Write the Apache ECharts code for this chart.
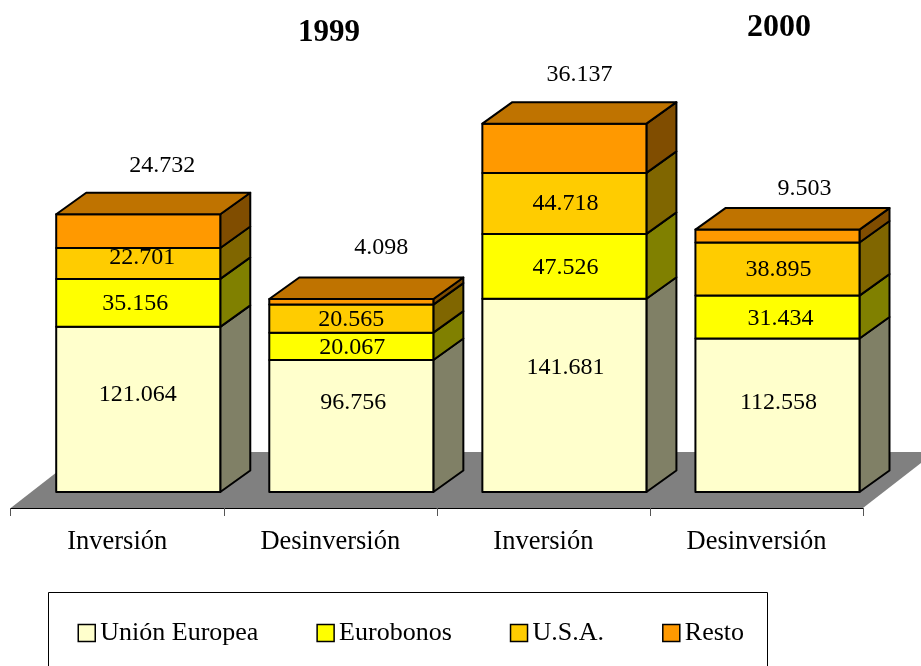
<!DOCTYPE html>
<html>
<head>
<meta charset="utf-8">
<style>html,body{margin:0;padding:0;background:#fff;overflow:hidden}#c{width:921px;height:666px}</style>
<script src="https://cdn.jsdelivr.net/npm/echarts@6/dist/echarts.min.js"></script>
</head>
<body>
<div id="c"></div>
<script>
const categories = ['Inversión', 'Desinversión', 'Inversión', 'Desinversión'];
const seriesNames = ['Unión Europea', 'Eurobonos', 'U.S.A.', 'Resto'];
const unionEuropea = [121.064, 96.756, 141.681, 112.558];
const eurobonos = [35.156, 20.067, 47.526, 31.434];
const usa = [22.701, 20.565, 44.718, 38.895];
const resto = [24.732, 4.098, 36.137, 9.503];
const groupTitles = ['1999', '2000'];

const allValues = [unionEuropea, eurobonos, usa, resto];
const frontColors = ['#FFFFCC', '#FFFF00', '#FFCC00', '#FF9900'];
const sideColors = ['#808066', '#808000', '#806600', '#804D00'];
const topColor = '#BF7300';
const FONT = '"Liberation Serif","Times New Roman",serif';

// 3D projection
const depthX = 30, depthY = -21.5, shiftX = 21, barRatio = 0.77;
const floorX = 72, floorY = -56, floorDrop = 16;

// label nudges from each segment's centre: [series][bar] = [dx, dy]
const labelNudge = [
  [[-0.5, -15], [2, -23], [1, -28], [1, -13]],
  [[-3, 0.5], [1, 1], [1, 1], [3, 2]],
  [[4, -6], [0, 1], [1, 0.5], [1, 0.5]],
  [[24, -65], [30, -54], [15, -74], [27, -47]]
];

function fmt(v) { return v.toFixed(3); }

const cumulative = categories.map(() => 0);
const barSeries = seriesNames.map((name, s) => {
  const data = categories.map((c, i) => {
    const base = cumulative[i];
    cumulative[i] += allValues[s][i];
    return [i, base, cumulative[i], allValues[s][i]];
  });
  return {
    type: 'custom',
    name,
    coordinateSystem: 'cartesian2d',
    encode: { x: 0, y: [1, 2] },
    itemStyle: { color: frontColors[s] },
    silent: true,
    data,
    renderItem(params, api) {
      const i = api.value(0);
      const lo = api.coord([i, api.value(1)]);
      const hi = api.coord([i, api.value(2)]);
      const w = api.size([1, 0])[0] * barRatio;
      const x0 = lo[0] + shiftX - w / 2, x1 = x0 + w;
      const yb = lo[1], yt = hi[1];
      const line = { stroke: '#000', lineWidth: 2, lineJoin: 'round' };
      const children = [
        { type: 'polygon', shape: { points: [[x1, yb], [x1 + depthX, yb + depthY], [x1 + depthX, yt + depthY], [x1, yt]] },
          style: Object.assign({ fill: sideColors[s] }, line) },
        { type: 'rect', shape: { x: x0, y: yt, width: w, height: yb - yt },
          style: Object.assign({ fill: frontColors[s] }, line) }
      ];
      if (s === seriesNames.length - 1) {
        children.push({ type: 'polygon', shape: { points: [[x0, yt], [x0 + depthX, yt + depthY], [x1 + depthX, yt + depthY], [x1, yt]] },
          style: Object.assign({ fill: topColor }, line) });
      }
      const n = labelNudge[s][i];
      children.push({ type: 'text', style: {
        text: fmt(api.value(3)), x: (x0 + x1) / 2 + n[0], y: (yb + yt) / 2 + n[1],
        align: 'center', verticalAlign: 'middle', fill: '#000', font: '24px ' + FONT } });
      return { type: 'group', children };
    }
  };
});

const floorSeries = {
  type: 'custom',
  name: 'floor',
  coordinateSystem: 'cartesian2d',
  silent: true,
  encode: { x: 0, y: 1 },
  data: [[0, 0]],
  renderItem(params, api) {
    const a = api.coord([0, 0]);
    const b = api.coord([categories.length - 1, 0]);
    const half = api.size([1, 0])[0] / 2;
    const y = a[1] + floorDrop, l = a[0] - half, r = b[0] + half;
    return { type: 'polygon', shape: { points: [[l, y], [r, y], [r + floorX, y + floorY], [l + floorX, y + floorY]] },
      style: { fill: '#808080' } };
  }
};

const chart = echarts.init(document.getElementById('c'), null, { renderer: 'canvas' });
chart.setOption({
  animation: false,
  backgroundColor: '#fff',
  title: [
    { text: groupTitles[0], left: 298, top: 17, padding: 0, textStyle: { fontFamily: FONT, fontSize: 31, fontWeight: 'bold', color: '#000' } },
    { text: groupTitles[1], left: 747, top: 12, padding: 0, textStyle: { fontFamily: FONT, fontSize: 32, fontWeight: 'bold', color: '#000' } }
  ],
  grid: { left: 10.7, right: 58, top: 82.8, bottom: 174, containLabel: false },
  xAxis: {
    type: 'category',
    data: categories,
    offset: floorDrop,
    z: 3,
    axisLine: { show: true, onZero: false, lineStyle: { color: '#000', width: 1 } },
    axisTick: { show: true, length: 8, lineStyle: { color: '#555', width: 1 } },
    axisLabel: { interval: 0, margin: 21, color: '#000', fontFamily: FONT, fontSize: 26.5 },
    splitLine: { show: false }
  },
  yAxis: { type: 'value', min: 0, max: 300, show: false, splitLine: { show: false } },
  legend: {
    data: seriesNames,
    left: 72.5, top: 615, orient: 'horizontal', padding: 5,
    icon: 'rect', itemWidth: 17, itemHeight: 17, itemGap: 58,
    selectedMode: false,
    itemStyle: { borderColor: '#000', borderWidth: 1.5 },
    textStyle: { fontFamily: FONT, fontSize: 26, color: '#000' }
  },
  graphic: [{ type: 'rect', z: -1, silent: true,
    shape: { x: 48.5, y: 592.5, width: 719, height: 100 },
    style: { fill: '#fff', stroke: '#000', lineWidth: 1 } }],
  series: [floorSeries].concat(barSeries)
});
</script>
</body>
</html>
